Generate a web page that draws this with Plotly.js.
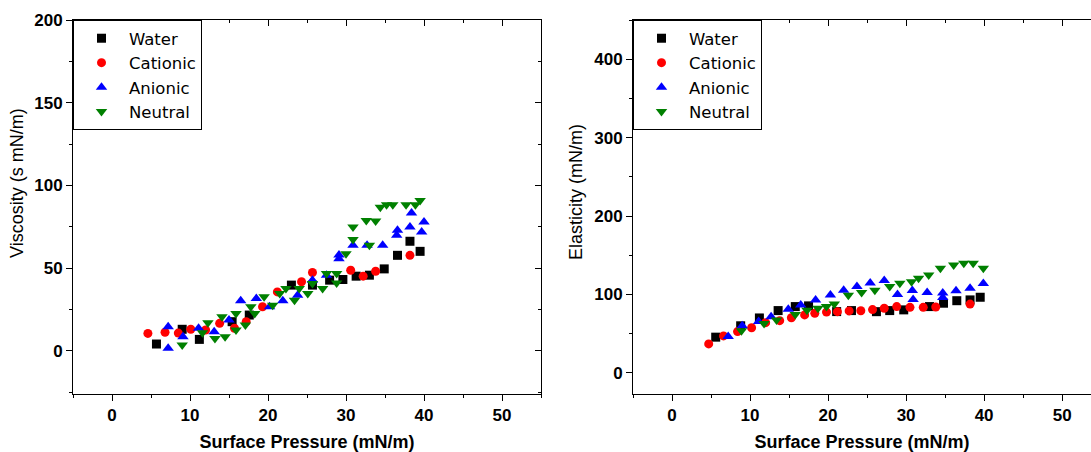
<!DOCTYPE html>
<html><head><meta charset="utf-8">
<script src="https://cdn.plot.ly/plotly-3.0.1.min.js"></script>
<style>html,body{margin:0;padding:0;background:#fff}#chart{width:1091px;height:452px}</style>
</head><body><div id="chart"></div>
<script>
// ---------- data ----------
const seriesNames = ['Water', 'Cationic', 'Anionic', 'Neutral'];
const xTickVals = [0, 10, 20, 30, 40, 50];
const viscTickVals = [0, 50, 100, 150, 200];
const elastTickVals = [0, 100, 200, 300, 400];
const xTitle = 'Surface Pressure (mN/m)';
const viscTitle = 'Viscosity (s mN/m)';
const elastTitle = 'Elasticity (mN/m)';

// Viscosity panel
const viscWaterX = [5.7, 9.0, 11.2, 15.4, 17.6, 23.0, 25.7, 27.9, 29.6, 31.3, 33.0, 34.9, 36.6, 38.2, 39.5];
const viscWaterY = [4.2, 13.1, 7.0, 17.7, 21.7, 39.8, 39.8, 42.8, 43.2, 45.2, 45.8, 49.6, 57.8, 66.3, 60.2];
const viscCationicX = [4.6, 6.8, 8.5, 10.1, 12.0, 13.8, 15.7, 17.2, 19.3, 21.2, 24.3, 25.7, 30.6, 32.2, 33.8, 38.2];
const viscCationicY = [10.6, 11.3, 10.8, 13.1, 12.7, 16.7, 13.7, 17.7, 26.7, 35.7, 41.8, 47.4, 48.8, 45.2, 48.2, 57.8];
const viscAnionicX = [7.2, 7.2, 9.1, 11.1, 13.1, 15.0, 16.5, 18.5, 20.2, 21.9, 23.8, 25.7, 27.5, 29.1, 29.1, 30.9, 32.7, 34.7, 36.5, 36.6, 38.2, 38.4, 39.7, 40.0];
const viscAnionicY = [14.7, 1.6, 8.6, 13.7, 11.6, 18.7, 30.3, 31.7, 26.7, 30.3, 33.7, 42.8, 45.8, 55.8, 58.0, 63.9, 63.9, 63.9, 69.9, 72.9, 74.9, 83.3, 71.9, 77.9];
const viscNeutralX = [9.0, 11.6, 12.3, 13.2, 14.1, 14.5, 15.9, 15.9, 17.1, 17.8, 18.3, 19.5, 20.6, 21.5, 22.3, 23.4, 24.0, 25.1, 25.7, 27.0, 27.5, 28.8, 28.8, 30.0, 30.9, 30.9, 32.6, 33.0, 33.8, 34.4, 35.2, 36.0, 37.7, 38.9, 39.5];
const viscNeutralY = [3.6, 11.0, 17.0, 7.6, 20.7, 8.6, 22.7, 12.6, 15.7, 26.7, 22.7, 32.7, 27.7, 34.7, 37.8, 30.7, 37.8, 34.7, 40.8, 37.8, 46.8, 41.1, 46.8, 58.8, 67.3, 74.9, 78.9, 63.9, 78.5, 86.9, 88.4, 88.4, 88.4, 88.4, 91.0];

// Elasticity panel
const elastWaterX = [5.6, 8.8, 11.2, 13.6, 15.8, 17.5, 21.1, 23.0, 26.2, 27.9, 29.7, 33.0, 34.8, 36.5, 38.2, 39.5];
const elastWaterY = [45.5, 60.0, 70.0, 79.4, 84.5, 85.4, 78.1, 79.4, 78.0, 79.4, 80.3, 84.5, 88.8, 92.0, 93.0, 96.4];
const elastCationicX = [4.7, 6.6, 8.4, 10.2, 12.0, 13.8, 15.3, 17.0, 18.3, 19.8, 21.2, 22.7, 24.2, 25.7, 27.2, 28.8, 30.5, 32.2, 33.8, 38.2];
const elastCationicY = [36.9, 47.1, 52.6, 57.5, 64.0, 66.5, 70.3, 73.9, 76.0, 77.5, 78.0, 79.0, 79.2, 80.7, 82.4, 84.5, 83.5, 83.5, 84.0, 87.7];
const elastAnionicX = [7.2, 9.0, 11.1, 12.7, 14.9, 16.5, 18.4, 20.3, 22.0, 23.7, 25.4, 27.2, 28.9, 30.8, 30.9, 32.7, 34.7, 34.7, 36.4, 38.2, 39.9];
const elastAnionicY = [46.2, 60.0, 65.4, 71.5, 81.1, 86.6, 93.0, 99.4, 105.2, 110.0, 114.6, 117.8, 100.0, 105.0, 93.5, 102.3, 101.9, 96.0, 104.8, 107.9, 113.8];
const elastNeutralX = [8.9, 11.8, 13.4, 15.8, 17.3, 18.7, 19.8, 20.8, 22.6, 24.3, 26.0, 27.9, 29.2, 30.7, 31.6, 32.9, 34.4, 36.1, 37.4, 38.6, 39.9];
const elastNeutralY = [53.7, 62.9, 67.5, 74.5, 79.9, 82.4, 84.5, 87.7, 99.0, 102.5, 105.2, 110.0, 114.3, 116.3, 120.6, 124.8, 133.4, 137.6, 139.7, 139.7, 133.4];

// ---------- styles ----------
const markerStyles = [
  {symbol: 'square', color: '#000000', size: 9},
  {symbol: 'circle', color: '#ff0000', size: 9},
  {symbol: 'triangle-up', color: '#0000ff', size: 10},
  {symbol: 'triangle-down', color: '#008000', size: 10}
];
const FONT = 'Liberation Sans, Arial, sans-serif';
const LEGEND_FONT = 'DejaVu Sans, Liberation Sans, sans-serif';

const viscData = [[viscWaterX, viscWaterY], [viscCationicX, viscCationicY], [viscAnionicX, viscAnionicY], [viscNeutralX, viscNeutralY]];
const elastData = [[elastWaterX, elastWaterY], [elastCationicX, elastCationicY], [elastAnionicX, elastAnionicY], [elastNeutralX, elastNeutralY]];

const traces = [];
viscData.forEach((d, i) => traces.push({
  type: 'scatter', mode: 'markers', name: seriesNames[i], x: d[0], y: d[1],
  xaxis: 'x', yaxis: 'y', legend: 'legend',
  marker: {symbol: markerStyles[i].symbol, color: markerStyles[i].color, size: markerStyles[i].size, line: {width: 0}}
}));
elastData.forEach((d, i) => traces.push({
  type: 'scatter', mode: 'markers', name: seriesNames[i], x: d[0], y: d[1],
  xaxis: 'x2', yaxis: 'y2', legend: 'legend2',
  marker: {symbol: markerStyles[i].symbol, color: markerStyles[i].color, size: markerStyles[i].size, line: {width: 0}}
}));
// empty helper traces so mirror axes (inside ticks) get drawn
traces.push({type: 'scatter', x: [], y: [], xaxis: 'x3', yaxis: 'y', showlegend: false, hoverinfo: 'skip'});
traces.push({type: 'scatter', x: [], y: [], xaxis: 'x', yaxis: 'y3', showlegend: false, hoverinfo: 'skip'});
traces.push({type: 'scatter', x: [], y: [], xaxis: 'x4', yaxis: 'y2', showlegend: false, hoverinfo: 'skip'});

const W = 1091, H = 452;
const L1 = 73, R1 = 541, L2 = 633;
const TOP = 20, BOT = 394;
const tickFont = {family: FONT, size: 17, color: '#000', weight: 'bold'};

function baseX(dom, anchor, range) {
  return {
    domain: dom, anchor: anchor, range: range, tickmode: 'array', tickvals: xTickVals,
    ticks: 'outside', ticklen: 6, tickwidth: 1, tickcolor: '#000',
    minor: {dtick: 5, tick0: 0, ticks: 'outside', ticklen: 3, tickwidth: 1, tickcolor: '#000', showgrid: false},
    showline: true, linecolor: '#000', linewidth: 1, zeroline: false, showgrid: false,
    tickfont: tickFont,
    title: {text: xTitle, font: {family: FONT, size: 18, color: '#000', weight: 'bold'}, standoff: 12},
    automargin: false
  };
}
function baseY(anchor, range, vals, minorStep) {
  return {
    domain: [0, 1], anchor: anchor, range: range, tickmode: 'array', tickvals: vals,
    ticks: 'outside', ticklen: 6, tickwidth: 1, tickcolor: '#000',
    minor: {dtick: minorStep, tick0: 0, ticks: 'outside', ticklen: 3, tickwidth: 1, tickcolor: '#000', showgrid: false},
    showline: true, linecolor: '#000', linewidth: 1, zeroline: false, showgrid: false,
    tickfont: tickFont, automargin: false
  };
}
function mirrorAxis(over, anchor, side, range, vals, minorStep) {
  return {
    overlaying: over, anchor: anchor, side: side, range: range, tickmode: 'array', tickvals: vals,
    ticks: 'inside', ticklen: 6, tickwidth: 1, tickcolor: '#000',
    minor: {dtick: minorStep, tick0: 0, ticks: 'inside', ticklen: 3, tickwidth: 1, tickcolor: '#000', showgrid: false},
    showline: true, linecolor: '#000', linewidth: 1, zeroline: false, showgrid: false,
    showticklabels: false, automargin: false
  };
}

const xr1 = [-5, 55], xr2 = [-5, 53.7];
const yr1 = [-26, 200], yr2 = [-27, 450];

const legendBase = {
  yanchor: 'top', xanchor: 'left', y: 1, bgcolor: '#fff', bordercolor: '#000', borderwidth: 1,
  font: {family: LEGEND_FONT, size: 16.5, color: '#000'}, itemwidth: 45, tracegroupgap: 0
};

const layout = {
  width: W, height: H,
  margin: {l: 0, r: 0, t: TOP, b: H - BOT, pad: 0},
  paper_bgcolor: '#fff', plot_bgcolor: '#fff',
  showlegend: true,
  xaxis: baseX([L1 / W, R1 / W], 'y', xr1),
  yaxis: baseY('x', yr1, viscTickVals, 25),
  xaxis2: baseX([L2 / W, 1], 'y2', xr2),
  yaxis2: baseY('x2', yr2, elastTickVals, 50),
  xaxis3: mirrorAxis('x', 'y', 'top', xr1, xTickVals, 5),
  yaxis3: mirrorAxis('y', 'x', 'right', yr1, viscTickVals, 25),
  xaxis4: mirrorAxis('x2', 'y2', 'top', xr2, xTickVals, 5),
  legend: Object.assign({}, legendBase, {x: L1 / W}),
  legend2: Object.assign({}, legendBase, {x: L2 / W}),
  annotations: [
    {text: viscTitle, xref: 'paper', yref: 'paper', x: 17 / W, y: (BOT - 183) / (BOT - TOP),
     xanchor: 'center', yanchor: 'middle', textangle: -90, showarrow: false,
     font: {family: FONT, size: 18, color: '#000'}},
    {text: elastTitle, xref: 'paper', yref: 'paper', x: 576 / W, y: (BOT - 192) / (BOT - TOP),
     xanchor: 'center', yanchor: 'middle', textangle: -90, showarrow: false,
     font: {family: FONT, size: 18, color: '#000'}}
  ]
};

Plotly.newPlot('chart', traces, layout, {staticPlot: true, displayModeBar: false});
</script>
</body></html>
